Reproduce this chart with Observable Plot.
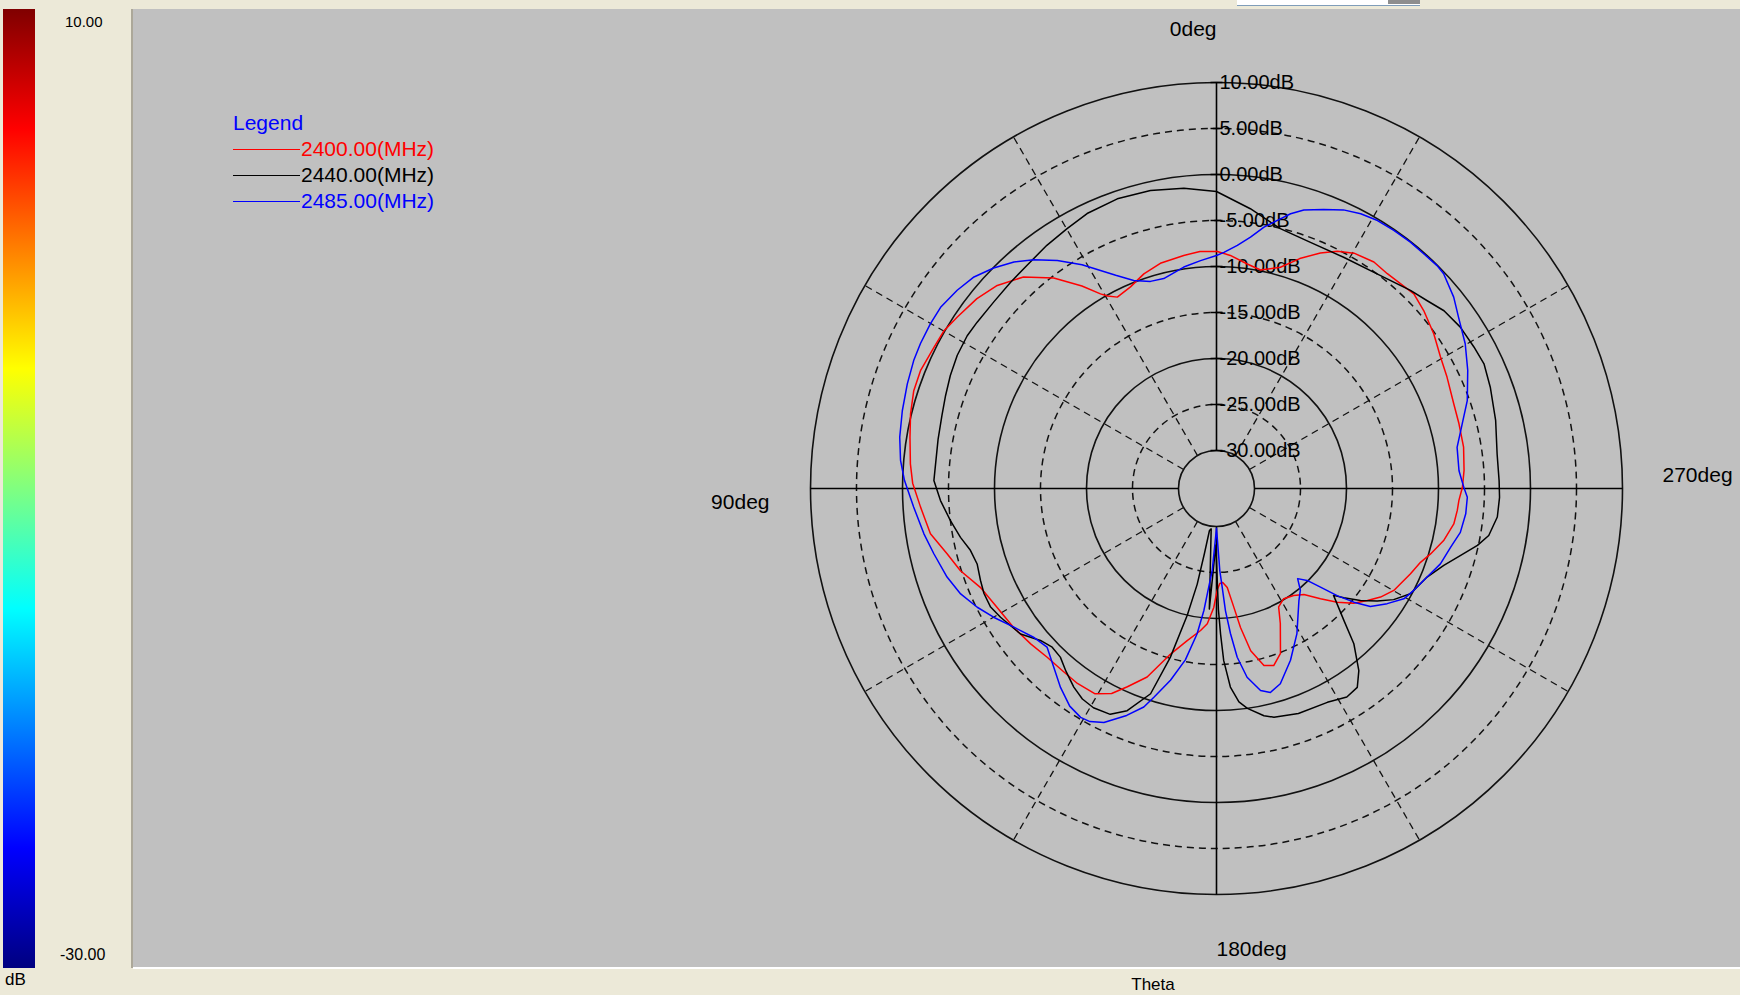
<!DOCTYPE html>
<html>
<head>
<meta charset="utf-8">
<script src="https://cdn.jsdelivr.net/npm/d3@7"></script>
<script src="https://cdn.jsdelivr.net/npm/@observablehq/plot@0.6"></script>
<style>
  html, body { margin: 0; padding: 0; }
  body { width: 1740px; height: 995px; position: relative; overflow: hidden; background: #ECE9D8;
         font-family: "Liberation Sans", Arial, sans-serif; }
  .abs { position: absolute; white-space: nowrap; }
  #colorbar { left: 3px; top: 9px; width: 32px; height: 959px; }
  #plotArea { left: 133px; top: 9px; width: 1607px; height: 958px; background: #C0C0C0; }
  #plotArea svg { display: block; }
  #shadow { left: 131px; top: 9px; width: 2px; height: 959px; background: #ACA899; }
  #hilite { left: 133px; top: 967px; width: 1607px; height: 2px; background: #FFFFFF; }
  #toolbox { left: 1237px; top: 0px; width: 183px; height: 5px; background: #FFFFFF; border-bottom: 1px solid #7F9DB9; }
  #toolbtn { left: 1388px; top: 0px; width: 32px; height: 4px; background: #8E8E8E; }
  .lbl { transform: translateY(-50%); color: #000; }
  #legend { left: 233px; top: 110px; font-size: 21px; line-height: 26px; }
  #legend .row { display: flex; align-items: center; height: 26px; }
  #legend .swatch { width: 67px; height: 0; border-top: 1.5px solid; margin-right: 1px; }
</style>
</head>
<body>
<div id="colorbar" class="abs"></div>
<div id="shadow" class="abs"></div>
<div id="plotArea" class="abs"></div>
<div id="hilite" class="abs"></div>
<div id="toolbox" class="abs"></div>
<div id="toolbtn" class="abs"></div>
<div id="legend" class="abs"></div>
<div id="cbTop" class="abs lbl" style="left:65px; top:21px; font-size:15px;"></div>
<div id="cbBottom" class="abs lbl" style="left:60px; top:955px; font-size:16px;"></div>
<div id="cbUnit" class="abs lbl" style="left:5px; top:980px; font-size:17px;"></div>
<div id="xTitle" class="abs lbl" style="left:1153px; top:985px; font-size:17px; transform:translate(-50%,-50%);"></div>
<script>
// ---------------- data ----------------
const seriesNames = ["2400.00(MHz)", "2440.00(MHz)", "2485.00(MHz)"];
const seriesColors = ["#FF0000", "#000000", "#0000FF"];

const theta2400 = [0,4,8,14,18.7,23.1,27.4,29.5,30.8,33.6,37.7,42.4,47.2,51.6,56.5,60,63.4,68.3,72.1,76.3,80.5,85.4,89,93.6,99,103.6,107.8,112.7,118.4,124.4,129.9,134.9,139.7,144.5,149.3,152.9,155.8,159.8,164.2,169.1,173.6,176.1,178.7,180.4,182,183.8,186.2,188.3,189.8,191.9,195,197.9,201.2,205.3,207.7,211.4,215.8,219.5,223.3,226.7,230.1,233.4,236.5,240.1,246.3,250.1,253,257.1,261.5,264.8,267.2,270.3,274.2,279.5,285,289.6,295.8,300.4,305.4,310.6,314.6,318,321.5,325.2,329.7,333,336.2,340.1,343.9,348.6,352.2,356.6];
const gain2400 = [-8.35,-8.3,-8.55,-8.9,-9.5,-10.3,-10.7,-10.1,-9.5,-7.7,-5.2,-3.0,-1.65,-0.9,-0.35,0.1,0.2,0.5,0.45,0.1,-0.35,-0.75,-1.1,-1.9,-2.65,-4.0,-4.9,-6.3,-7.0,-7.4,-7.8,-8.15,-8.2,-8.1,-8.2,-9.1,-10.5,-12.3,-15.3,-17.3,-18.6,-19.4,-21.2,-23.1,-23.8,-23.9,-23.3,-21.1,-18.8,-16.1,-14.2,-13.9,-14.9,-17.9,-19.6,-20.1,-19.8,-19.2,-17.65,-16.1,-14.7,-13.7,-12.75,-11.9,-11.1,-10.55,-9.8,-8.8,-8.05,-7.85,-7.75,-7.4,-7.15,-6.9,-6.85,-6.75,-6.3,-5.9,-5.15,-4.45,-4.0,-4.2,-4.3,-4.15,-4.5,-5.2,-6.15,-7.55,-9.1,-9.9,-9.5,-8.75];

const theta2440 = [0,6.2,12.5,18.9,25.2,29.9,34.9,40.3,45,50.1,55.2,58.5,62.8,67,71.1,75.1,80,88.4,92.5,96.9,100.8,104.1,107.5,111.3,114.3,117.7,120.8,126.6,130.8,134,137.2,140.5,144.3,147.5,150.7,154.8,158.1,162.2,164.7,167,168.6,169.5,170.5,172.5,176.6,179.3,180.3,180.9,181.6,182.4,184,186,188,191.8,194.1,200,207.4,212,215.3,218,221.5,224,227.6,229.4,232.1,235,237.9,241.5,247.2,251.3,254.6,257.7,260.2,264.2,268.2,271.6,277,283.7,290.3,295,298.8,303.5,308,311.7,315.6,323.2,331.2,339.1,346.2,353.1];
const gain2440 = [-1.85,-1.3,-0.95,-0.85,-1.1,-1.55,-1.9,-2.3,-2.45,-2.55,-2.45,-2.35,-2.45,-2.7,-3.0,-3.25,-3.4,-3.4,-4.1,-5.0,-5.8,-6.55,-6.85,-6.6,-6.4,-6.4,-6.8,-7.6,-8.85,-9.3,-9.15,-8.4,-7.55,-7.0,-6.8,-7.0,-8.1,-10.7,-15.1,-20.0,-23.5,-27,-29.5,-29.7,-21,-28,-25,-21,-18.3,-15.4,-12.5,-10.8,-10.0,-8.9,-8.5,-8.1,-7.95,-7.4,-7.65,-9.0,-11.6,-14.2,-16.9,-15.9,-14.3,-12.8,-11.4,-10.15,-9.3,-8.05,-6.65,-5.1,-4.1,-3.45,-3.35,-3.4,-3.4,-2.9,-2.4,-2.05,-2.2,-2.35,-2.75,-3.45,-4.0,-5.0,-5.45,-5.5,-5.05,-3.5];

const theta2485 = [0,4,8.4,14.1,17.7,21.7,25.3,31,34.9,38.6,41.8,45.3,48.9,52.6,56.7,60.1,63.9,67.1,71.3,76.1,80.8,84.9,88.5,93.5,98.8,103,108.2,112.4,116.4,120,124.4,129.1,133.1,137.7,141.9,146,149.3,151.5,154.3,158.4,161.6,163.3,166.5,169.7,172.4,174.1,175.5,177,180,182.3,183.3,184.2,185.5,187,189.2,192.3,194.8,198.1,203.3,209,216.3,219.5,222,224.6,226.5,228.4,230.4,232.5,236,239.5,242.7,247.2,251.4,255.9,259.8,264.2,268,270.3,274.2,279.7,284.8,289.3,295.2,300.2,305.3,308.9,313.4,315.3,318.5,321.8,325.5,329,332.3,335.5,339,342.6,344.9,347.2,349.7,352.3,355.1,358.2];
const gain2485 = [-8.8,-9.3,-9.8,-10.6,-10.5,-9.8,-8.5,-5.75,-3.9,-2.3,-1.1,-0.05,0.85,1.35,1.75,1.75,1.7,1.6,1.35,1.05,0.75,0.35,-0.2,-1.15,-1.95,-2.6,-3.3,-4.05,-5.1,-6.15,-7.45,-8.5,-8.9,-7.85,-6.65,-5.6,-5.2,-5.3,-5.9,-7.6,-9.1,-10.45,-12.7,-15.2,-18.2,-20.8,-23.4,-25.2,-29.8,-25.2,-23.4,-20.8,-18.3,-15.65,-13.35,-11.65,-11.2,-11.8,-13.8,-16.1,-19.0,-19.8,-20.95,-20.1,-18.55,-16.6,-14.75,-13.05,-11.75,-10.5,-10.0,-9.3,-8.45,-7.9,-7.2,-6.9,-6.85,-7.25,-7.7,-7.6,-6.5,-5.25,-3.95,-2.85,-1.9,-1.0,-0.15,-0.05,-0.1,-0.05,-0.1,-0.15,-0.4,-0.85,-1.65,-2.4,-3.2,-4.25,-5.25,-6.55,-7.6,-8.45];

const ringLevels = [10, 5, 0, -5, -10, -15, -20, -25, -30];
const ringLabels = ["10.00dB", "5.00dB", "0.00dB", "-5.00dB", "-10.00dB", "-15.00dB", "-20.00dB", "-25.00dB", "-30.00dB"];
const spokeAngles = [30, 60, 120, 150, 210, 240, 300, 330];
const axisAngles = [0, 90, 180, 270];
const angleLabels = ["0deg", "90deg", "180deg", "270deg"];
const colorbarLabels = ["10.00", "-30.00"];
const colorbarUnit = "dB";
const legendTitle = "Legend";
const axisTitle = "Theta";

// ---------------- layout ----------------
const W = 1607, H = 958;          // plot area (gray)
const CX = 1083, CY = 479;        // pole inside plot area
const R_IN = 38, R_OUT = 406;     // radius of -30 dB and +10 dB rings
const rad = d3.scaleLinear().domain([-30, 10]).range([R_IN, R_OUT]);
const toRad = a => a * Math.PI / 180;
const px = (a, r) => -r * Math.sin(toRad(a));   // 0deg up, 90deg left (counter-clockwise)
const py = (a, r) => r * Math.cos(toRad(a));
const FONT = "'Liberation Sans', Arial, sans-serif";

const series = [
  {name: seriesNames[0], color: seriesColors[0], theta: theta2400, gain: gain2400},
  {name: seriesNames[1], color: seriesColors[1], theta: theta2440, gain: gain2440},
  {name: seriesNames[2], color: seriesColors[2], theta: theta2485, gain: gain2485}
];
const lineData = s => {
  const rows = s.theta.map((t, i) => ({t, g: s.gain[i]}));
  rows.push({t: 360, g: s.gain[0]});
  return rows;
};

const angleLayout = [
  {off: 53, anchor: "end",   dy: 0},
  {off: 41, anchor: "end",   dy: 14},
  {off: 55, anchor: "start", dy: 0},
  {off: 40, anchor: "start", dy: -13}
];

const marks = [
  Plot.link(spokeAngles, {x1: a => px(a, R_IN), y1: a => py(a, R_IN), x2: a => px(a, R_OUT), y2: a => py(a, R_OUT),
    stroke: "#111", strokeWidth: 1.3, strokeDasharray: "7,5"}),
  Plot.dot(ringLevels.filter(d => d % 10 !== 0), {x: () => 0, y: () => 0, r: d => rad(d),
    fill: "none", stroke: "#111", strokeWidth: 1.5, strokeDasharray: "7,5"}),
  Plot.dot(ringLevels.filter(d => d % 10 === 0), {x: () => 0, y: () => 0, r: d => rad(d),
    fill: "none", stroke: "#111", strokeWidth: 1.6}),
  Plot.link(axisAngles, {x1: a => px(a, R_IN), y1: a => py(a, R_IN), x2: a => px(a, R_OUT), y2: a => py(a, R_OUT),
    stroke: "#000", strokeWidth: 1.6}),
  Plot.link(ringLevels, {x1: () => -6, x2: () => 6, y1: d => rad(d), y2: d => rad(d), stroke: "#000", strokeWidth: 1.5}),
  Plot.text(ringLevels, {x: () => 3, y: d => rad(d), text: (d, i) => ringLabels[i], textAnchor: "start",
    fontSize: 20, fill: "#000", fontFamily: FONT}),
  ...angleLabels.map((lab, i) => Plot.text([lab], {
    x: () => px(axisAngles[i], R_OUT + angleLayout[i].off),
    y: () => py(axisAngles[i], R_OUT + angleLayout[i].off),
    text: d => d, textAnchor: angleLayout[i].anchor, dy: angleLayout[i].dy,
    fontSize: 21, fill: "#000", fontFamily: FONT})),
  ...series.map(s => Plot.line(lineData(s), {
    x: d => px(d.t, rad(d.g)), y: d => py(d.t, rad(d.g)),
    stroke: s.color, strokeWidth: 1.5, strokeLinejoin: "round"}))
];

const chart = Plot.plot({
  width: W, height: H, margin: 0,
  x: {type: "linear", domain: [-CX, W - CX], axis: null},
  y: {type: "linear", domain: [-(H - CY), CY], axis: null},
  r: {type: "identity"},
  style: `background: transparent; overflow: visible; max-width: none; font-family: ${FONT};`,
  marks
});
document.getElementById("plotArea").appendChild(chart);

// legend
const legend = document.getElementById("legend");
const title = document.createElement("div");
title.className = "row";
title.style.color = "#0000FF";
title.textContent = legendTitle;
legend.appendChild(title);
series.forEach(s => {
  const row = document.createElement("div");
  row.className = "row";
  const sw = document.createElement("span");
  sw.className = "swatch";
  sw.style.borderTopColor = s.color;
  const tx = document.createElement("span");
  tx.style.color = s.color;
  tx.textContent = s.name;
  row.appendChild(sw); row.appendChild(tx);
  legend.appendChild(row);
});

// colorbar (jet, +10 dB at top, -30 dB at bottom)
const jetStops = [[0, "#800000"], [0.125, "#FF0000"], [0.375, "#FFFF00"], [0.5, "#80FF80"], [0.625, "#00FFFF"], [0.875, "#0000FF"], [1, "#000080"]];
document.getElementById("colorbar").style.background =
  "linear-gradient(to bottom, " + jetStops.map(([p, c]) => `${c} ${p * 100}%`).join(", ") + ")";
document.getElementById("cbTop").textContent = colorbarLabels[0];
document.getElementById("cbBottom").textContent = colorbarLabels[1];
document.getElementById("cbUnit").textContent = colorbarUnit;
document.getElementById("xTitle").textContent = axisTitle;
</script>
</body>
</html>
